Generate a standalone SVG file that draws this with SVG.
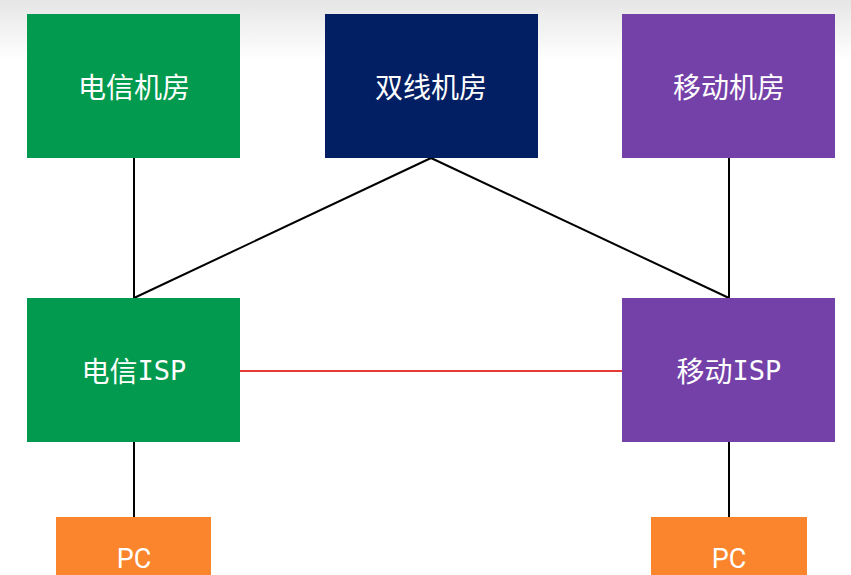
<svg xmlns="http://www.w3.org/2000/svg" width="851" height="575" viewBox="0 0 851 575">
  <defs>
    <linearGradient id="bg" x1="0" y1="0" x2="0" y2="1">
      <stop offset="0" stop-color="#e6e6e6"/>
      <stop offset="1" stop-color="#ffffff"/>
    </linearGradient>
    <style>
      .green { fill: #019a4e; }
      .navy { fill: #021f63; }
      .purple { fill: #7441a8; }
      .orange { fill: #fa852d; }
      .label { fill: #ffffff; font-family: "Noto Sans CJK SC", "Noto Sans", sans-serif; font-size: 28px; text-anchor: middle; dominant-baseline: central; }
      .mono { font-family: "DejaVu Sans Mono", "Liberation Mono", monospace; font-size: 27px; }
      .pc { fill: #ffffff; font-family: Roboto, "Liberation Sans", sans-serif; font-size: 27px; text-anchor: middle; }
      .link { stroke: #000000; stroke-width: 2; fill: none; }
      .red { stroke: #e53935; stroke-width: 2.2; fill: none; }
    </style>
  </defs>
  <rect x="0" y="0" width="851" height="575" fill="#ffffff"/>
  <rect x="0" y="0" width="851" height="60" fill="url(#bg)"/>

  <g id="connectors">
    <line class="link" x1="134" y1="158" x2="134" y2="298"/>
    <line class="link" x1="431" y1="158" x2="134" y2="298"/>
    <line class="link" x1="431" y1="158" x2="729" y2="298"/>
    <line class="link" x1="729" y1="158" x2="729" y2="298"/>
    <line class="red" x1="240" y1="371" x2="622" y2="371"/>
    <line class="link" x1="134" y1="442" x2="134" y2="517"/>
    <line class="link" x1="729" y1="442" x2="729" y2="517"/>
  </g>

  <g id="dianxin-jifang">
    <rect class="green" x="27" y="14" width="213" height="144"/>
    <text class="label" x="134" y="86">电信机房</text>
  </g>
  <g id="shuangxian-jifang">
    <rect class="navy" x="325" y="14" width="213" height="144"/>
    <text class="label" x="431" y="86">双线机房</text>
  </g>
  <g id="yidong-jifang">
    <rect class="purple" x="622" y="14" width="213" height="144"/>
    <text class="label" x="729" y="86">移动机房</text>
  </g>
  <g id="dianxin-isp">
    <rect class="green" x="27" y="298" width="213" height="144"/>
    <text class="label" x="134" y="370">电信<tspan class="mono">ISP</tspan></text>
  </g>
  <g id="yidong-isp">
    <rect class="purple" x="622" y="298" width="213" height="144"/>
    <text class="label" x="729" y="370">移动<tspan class="mono">ISP</tspan></text>
  </g>
  <g id="pc-left">
    <rect class="orange" x="56" y="517" width="155" height="70"/>
    <text class="pc" x="134" y="568">PC</text>
  </g>
  <g id="pc-right">
    <rect class="orange" x="651" y="517" width="156" height="70"/>
    <text class="pc" x="729" y="568">PC</text>
  </g>
</svg>
